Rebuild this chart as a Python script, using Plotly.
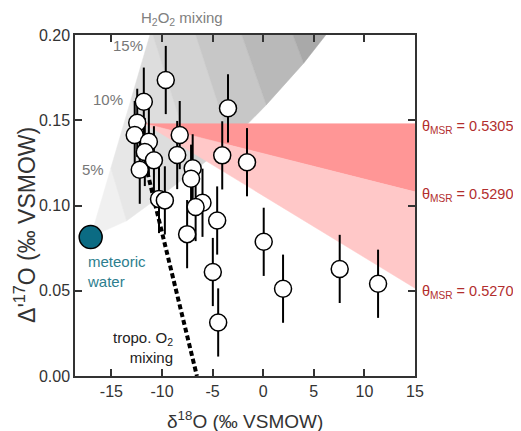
import plotly.graph_objects as go

# ---- sample data ----
d18O = [-9.63, -11.8, -3.48, -12.45, -12.7, -11.3, -8.25, -11.7, -8.5, -4.05,
        -1.6, -12.2, -10.8, -6.97, -7.13, -10.3, -9.72, -6.0, -6.68, -4.55,
        -7.52, 0.05, -4.98, 1.96, 7.56, 11.35, -4.45]
D17O = [0.1736, 0.1609, 0.157, 0.1485, 0.1413, 0.1374, 0.1413, 0.1314, 0.1296, 0.1294,
        0.1254, 0.121, 0.1265, 0.1218, 0.1157, 0.1038, 0.103, 0.1016, 0.0991, 0.0912,
        0.0832, 0.0787, 0.061, 0.0512, 0.0628, 0.0541, 0.0314]
D17O_err = [0.02, 0.02, 0.02, 0.02, 0.02, 0.02, 0.02, 0.02, 0.02, 0.02,
            0.02, 0.02, 0.02, 0.02, 0.02, 0.02, 0.02, 0.02, 0.02, 0.02,
            0.02, 0.02, 0.02, 0.02, 0.02, 0.02, 0.02]

# meteoric water end-member
met_x = [-17.05]
met_y = [0.0815]

# H2O2 mixing fan: fraction contours, left and right end points
h2o2_frac = [0, 5, 10, 15, 20, 25, 30, 35]
fan_left_x = [-17.05, -15.05, -13.05, -11.05, -9.05, -7.05, -5.05, -3.05]
fan_left_y = [0.0815, 0.122, 0.1625, 0.203, 0.2435, 0.284, 0.3245, 0.365]
fan_right_x = [-17.05, -13.5, -10.05, -6.7, -3.25, 0.3, 4.0, 8.3]
fan_right_y = [0.0815, 0.091, 0.106, 0.121, 0.1375, 0.159, 0.1835, 0.216]
frac_labels = ["5%", "10%", "15%"]
frac_label_x = [-16.8, -15.37, -13.39]
frac_label_y = [0.1214, 0.162, 0.1941]
band_colors = ["#f0f0f0", "#e7e7e7", "#dddddd", "#d3d3d3", "#c7c7c7", "#b9b9b9", "#a9a9a9"]

# theta_MSR wedges
theta_labels = ["0.5305", "0.5290", "0.5270"]
theta_apex_x = -11.7
theta_apex_y = 0.148
theta_end_x = 15
theta_end_y = [0.148, 0.108, 0.0515]
wedge_colors = ["#ff9696", "#ffc8c8"]

# tropospheric O2 mixing line
tropo_x = [-11.45, -6.55]
tropo_y = [0.1195, 0.0]

FONT = "Liberation Sans, Arial, Helvetica, sans-serif"
AX = "#333333"

fig = go.Figure()

# gray fan bands
for i in range(len(h2o2_frac) - 1):
    xs = [fan_left_x[i], fan_left_x[i + 1], fan_right_x[i + 1], fan_right_x[i], fan_left_x[i]]
    ys = [fan_left_y[i], fan_left_y[i + 1], fan_right_y[i + 1], fan_right_y[i], fan_left_y[i]]
    fig.add_trace(go.Scatter(x=xs, y=ys, mode="lines", fill="toself",
                             fillcolor=band_colors[i],
                             line=dict(color=band_colors[i], width=0.5),
                             hoverinfo="skip", showlegend=False))

# red theta wedges
for i in range(len(theta_end_y) - 1):
    xs = [theta_apex_x, theta_end_x, theta_end_x, theta_apex_x]
    ys = [theta_apex_y, theta_end_y[i], theta_end_y[i + 1], theta_apex_y]
    fig.add_trace(go.Scatter(x=xs, y=ys, mode="lines", fill="toself",
                             fillcolor=wedge_colors[i],
                             line=dict(color=wedge_colors[i], width=0.5),
                             hoverinfo="skip", showlegend=False))

# tropo O2 mixing dashed line
fig.add_trace(go.Scatter(x=tropo_x, y=tropo_y, mode="lines",
                         line=dict(color="black", width=4, dash="5px,3px"),
                         hoverinfo="skip", showlegend=False))

# samples
fig.add_trace(go.Scatter(x=d18O, y=D17O, mode="markers",
                         marker=dict(size=17, color="white", line=dict(color="black", width=1.5)),
                         error_y=dict(type="data", array=D17O_err, color="black", thickness=2, width=0),
                         showlegend=False))

# meteoric water
fig.add_trace(go.Scatter(x=met_x, y=met_y, mode="markers",
                         marker=dict(size=23, color="#0b6b83", line=dict(color="black", width=1.5)),
                         showlegend=False))

ann = []
for t, x, y in zip(frac_labels, frac_label_x, frac_label_y):
    ann.append(dict(x=x, y=y, xref="x", yref="y", text=t, showarrow=False,
                    xanchor="center", yanchor="middle",
                    font=dict(family=FONT, size=15, color="#777777")))
ann.append(dict(x=-8.0, y=1.047, xref="x", yref="paper", text="H<sub>2</sub>O<sub>2</sub> mixing",
                xanchor="center", yanchor="middle",
                showarrow=False, font=dict(family=FONT, size=15, color="#808080")))
ann.append(dict(x=-17.6, y=0.0612, xref="x", yref="y", text="meteoric<br>water", align="left",
                xanchor="left", yanchor="middle",
                showarrow=False, font=dict(family=FONT, size=15, color="#2d7e8e")))
ann.append(dict(x=-8.74, y=0.0167, xref="x", yref="y", text="tropo. O<sub>2</sub><br>mixing", align="right",
                xanchor="right", yanchor="middle",
                showarrow=False, font=dict(family=FONT, size=15, color="#222222")))
for t, y in zip(theta_labels, theta_end_y):
    ann.append(dict(x=1, y=y - 0.002, xref="paper", yref="y", xanchor="left", yanchor="middle", xshift=5,
                    text="\u03b8<sub>MSR</sub> = " + t, showarrow=False,
                    font=dict(family=FONT, size=14.5, color="#b22e2e")))
ann.append(dict(x=0.5, y=-0.129, xref="paper", yref="paper", text="\u03b4<sup>18</sup>O (\u2030 VSMOW)",
                xanchor="center", yanchor="middle",
                showarrow=False, font=dict(family=FONT, size=19, color=AX)))
ann.append(dict(x=-0.147, y=0.443, xref="paper", yref="paper", text="\u0394'<sup>17</sup>O (\u2030 VSMOW)",
                xanchor="center", yanchor="middle",
                textangle=-90, showarrow=False, font=dict(family=FONT, size=23, color=AX)))

xt = [-15, -10, -5, 0, 5, 10, 15]
yt = [0.0, 0.05, 0.10, 0.15, 0.20]

fig.update_layout(
    width=513, height=423,
    margin=dict(l=67, r=106, t=27, b=55),
    paper_bgcolor="white", plot_bgcolor="white",
    annotations=ann,
    font=dict(family=FONT, color=AX),
    xaxis=dict(range=[-18.6, 15], tickvals=xt, ticktext=[str(v) for v in xt],
               ticks="inside", ticklen=7, tickwidth=1.5, tickcolor=AX,
               showline=True, linecolor=AX, linewidth=1.5, mirror="ticks",
               showgrid=False, zeroline=False, tickfont=dict(size=16, color=AX)),
    yaxis=dict(range=[0, 0.2], tickvals=yt, ticktext=["%.2f" % v for v in yt],
               ticks="inside", ticklen=7, tickwidth=1.5, tickcolor=AX,
               showline=True, linecolor=AX, linewidth=1.5, mirror="ticks",
               showgrid=False, zeroline=False, tickfont=dict(size=16, color=AX)),
)

fig.write_html("out.html")
